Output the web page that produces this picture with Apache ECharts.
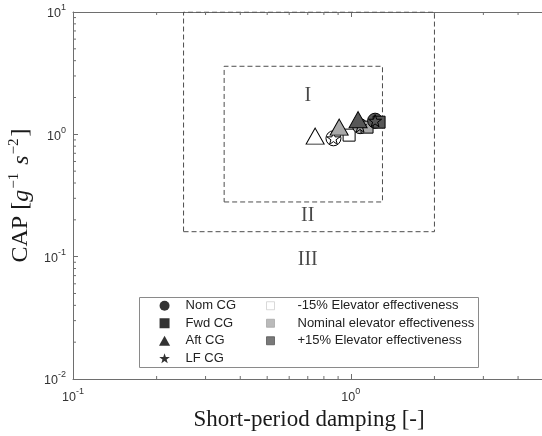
<!DOCTYPE html>
<html><head><meta charset="utf-8">
<script src="https://cdn.jsdelivr.net/npm/echarts@6/dist/echarts.min.js"></script>
<style>html,body{margin:0;padding:0;background:#fff}#c{width:542px;height:436px}</style>
</head><body><div id="c"></div>
<script>
// ---- data ----
const cgNames = ['Nom CG', 'Fwd CG', 'Aft CG', 'LF CG'];
const effNames = ['-15% Elevator effectiveness', 'Nominal elevator effectiveness', '+15% Elevator effectiveness'];
// values indexed by effectiveness: [-15%, nominal, +15%]
const dampNom = [0.866, 1.080, 1.223];
const capNom  = [0.928, 1.166, 1.293];
const dampFwd = [0.986, 1.144, 1.264];
const capFwd  = [0.985, 1.145, 1.257];
const dampAft = [0.744, 0.908, 1.062];
const capAft  = [0.967, 1.145, 1.318];
const dampLF  = [0.866, 1.080, 1.223];
const capLF   = [0.928, 1.166, 1.293];
const level1Damp = [0.35, 1.30];
const level1Cap  = [0.28, 3.6];
const level2Damp = [0.25, 2.0];
const level2Cap  = [0.16, 10];
const regionLabels = ['I', 'II', 'III'];
const regionDamp = [0.70, 0.70, 0.70];
const regionCap  = [2.07, 0.215, 0.0952];
const xMinorTicks = [0.2, 0.3, 0.4, 0.5, 0.6, 0.7, 0.8, 0.9, 2, 3, 4];
const yMinorTicks = [0.02, 0.03, 0.04, 0.05, 0.06, 0.07, 0.08, 0.09,
                     0.2, 0.3, 0.4, 0.5, 0.6, 0.7, 0.8, 0.9,
                     2, 3, 4, 5, 6, 7, 8, 9];
const xMin = 0.1, xMax = 5, yMin = 0.01, yMax = 10;

// ---- styles ----
const effColors = ['#ffffff', '#a9a9a9', '#575757'];
const STAR = 'path://M50,0L61.8,35.1L98.9,35.1L69.1,57.3L79.4,91.9L50,70.6L20.6,91.9L30.9,57.3L1.1,35.1L38.2,35.1Z';
const SQUARE = 'path://M0,0H10V10H0Z';
const TRI = 'path://M5,0L10,9L0,9Z';
const cgSymbols = ['circle', 'rect', 'triangle', STAR];
const cgSizes = [15, 12, [18, 16], 13];
const cgIcons = ['circle', SQUARE, TRI, STAR];
const cgDamp = [dampNom, dampFwd, dampAft, dampLF];
const cgCap = [capNom, capFwd, capAft, capLF];
const axisColor = '#6e6e6e';

function expLabel(v) {
  const e = Math.round(Math.log10(v));
  return '{b|10}{s|' + e + '}';
}
const tickRich = {
  b: {fontFamily: 'Liberation Sans', fontSize: 12.5, color: '#333', lineHeight: 17, verticalAlign: 'bottom'},
  s: {fontFamily: 'Liberation Sans', fontSize: 9, color: '#333', lineHeight: 10, verticalAlign: 'top'}
};

const series = [];
function boxData(d, c) {
  return [[d[0], c[0]], [d[1], c[0]], [d[1], c[1]], [d[0], c[1]], [d[0], c[0]]];
}
[[level1Damp, level1Cap], [level2Damp, level2Cap]].forEach(function (lv) {
  series.push({
    type: 'line', data: boxData(lv[0], lv[1]), symbol: 'none', silent: true,
    lineStyle: {color: '#4d4d4d', width: 1, type: [5, 3]}, z: 2
  });
});
series.push({
  type: 'scatter', symbolSize: 0, silent: true,
  data: regionLabels.map(function (n, i) { return {name: n, value: [regionDamp[i], regionCap[i]]}; }),
  label: {show: true, position: 'inside', formatter: '{b}', fontFamily: 'Liberation Serif', fontSize: 20, color: '#1a1a1a'}
});
for (let e = 0; e < 3; e++) {
  for (let c = 0; c < 4; c++) {
    series.push({
      type: 'scatter', name: cgNames[c] + ' / ' + effNames[e],
      symbol: cgSymbols[c], symbolSize: cgSizes[c], symbolKeepAspect: true,
      data: [[cgDamp[c][e], cgCap[c][e]]],
      itemStyle: {color: effColors[e], borderColor: '#000', borderWidth: 1, opacity: 1},
      z: 5
    });
  }
}
cgNames.forEach(function (n) { series.push({type: 'scatter', name: n, data: []}); });
effNames.forEach(function (n) { series.push({type: 'scatter', name: n, data: []}); });
series.push({
  type: 'custom', silent: true, z: 3,
  data: xMinorTicks.map(function (v) { return [v, yMin]; }),
  renderItem: function (params, api) {
    const v = api.value(0);
    const b = api.coord([v, yMin]);
    const t = api.coord([v, yMax]);
    return {type: 'group', children: [
      {type: 'line', shape: {x1: b[0], y1: b[1], x2: b[0], y2: b[1] - 3}, style: {stroke: axisColor, lineWidth: 1}},
      {type: 'line', shape: {x1: t[0], y1: t[1], x2: t[0], y2: t[1] + 3}, style: {stroke: axisColor, lineWidth: 1}}
    ]};
  }
});
series.push({
  type: 'custom', silent: true, z: 3,
  data: yMinorTicks.map(function (v) { return [xMin, v]; }),
  renderItem: function (params, api) {
    const p = api.coord([xMin, api.value(1)]);
    return {type: 'line', shape: {x1: p[0], y1: p[1], x2: p[0] + 3, y2: p[1]}, style: {stroke: axisColor, lineWidth: 1}};
  }
});

const legendText = {fontFamily: 'Liberation Sans', fontSize: 13, color: '#222', lineHeight: 13.5};

const option = {
  animation: false,
  backgroundColor: '#fff',
  grid: {left: 73, top: 12, right: -3, bottom: 57, containLabel: false, outerBoundsMode: 'none'},
  xAxis: [{
    type: 'log', logBase: 10, min: xMin, max: xMax,
    name: 'Short-period damping [-]', nameLocation: 'middle', nameGap: 28,
    nameTextStyle: {fontFamily: 'Liberation Serif', fontSize: 23, color: '#1a1a1a'},
    axisLine: {lineStyle: {color: axisColor, width: 1}},
    axisTick: {inside: true, length: 5, lineStyle: {color: axisColor}},
    axisLabel: {formatter: expLabel, rich: tickRich, margin: 8, showMaxLabel: false},
    splitLine: {show: false}, minorTick: {show: false}
  }, {
    type: 'log', logBase: 10, min: xMin, max: xMax, position: 'top',
    axisLine: {lineStyle: {color: axisColor, width: 1}},
    axisTick: {inside: true, length: 5, lineStyle: {color: axisColor}},
    axisLabel: {show: false}, splitLine: {show: false}
  }],
  yAxis: [{
    type: 'log', logBase: 10, min: yMin, max: yMax,
    name: '{r|CAP [}{i|g}{s|\u22121}{i| s}{s|\u22122}{r|]}', nameLocation: 'middle', nameGap: 36,
    nameTextStyle: {
      rich: {
        r: {fontFamily: 'Liberation Serif', fontSize: 24, color: '#1a1a1a', lineHeight: 27, verticalAlign: 'bottom'},
        i: {fontFamily: 'Liberation Serif', fontStyle: 'italic', fontSize: 24, color: '#1a1a1a', lineHeight: 27, verticalAlign: 'bottom'},
        s: {fontFamily: 'Liberation Serif', fontSize: 15, color: '#1a1a1a', lineHeight: 15, verticalAlign: 'top', padding: [0, 2, 0, 1]}
      }
    },
    axisLine: {show: true, lineStyle: {color: axisColor, width: 1}},
    axisTick: {inside: true, length: 5, lineStyle: {color: axisColor}},
    axisLabel: {formatter: expLabel, rich: tickRich, margin: 7},
    splitLine: {show: false}, minorTick: {show: false}
  }],
  legend: [{
    orient: 'vertical', left: 159, top: 299, padding: 0, itemWidth: 32, itemHeight: 10, itemGap: 4,
    selectedMode: false, textStyle: legendText,
    data: cgNames.map(function (n, i) {
      return {name: n, icon: cgIcons[i], itemStyle: {color: '#000', borderWidth: 0}};
    })
  }, {
    orient: 'vertical', left: 266, top: 299, padding: 0, itemWidth: 44, itemHeight: 8, itemGap: 4,
    selectedMode: false, textStyle: legendText,
    data: effNames.map(function (n, i) {
      return {name: n, icon: SQUARE, itemStyle: {color: effColors[i], borderColor: i === 0 ? '#d0d0d0' : effColors[i], borderWidth: 1}};
    })
  }],
  graphic: [{
    type: 'rect', left: 139, top: 297, z: -1,
    shape: {width: 339, height: 70},
    style: {fill: '#fff', stroke: '#8a8a8a', lineWidth: 1}
  }],
  series: series
};
const chart = echarts.init(document.getElementById('c'), null, {renderer: 'canvas'});
chart.setOption(option);
</script>
</body></html>
